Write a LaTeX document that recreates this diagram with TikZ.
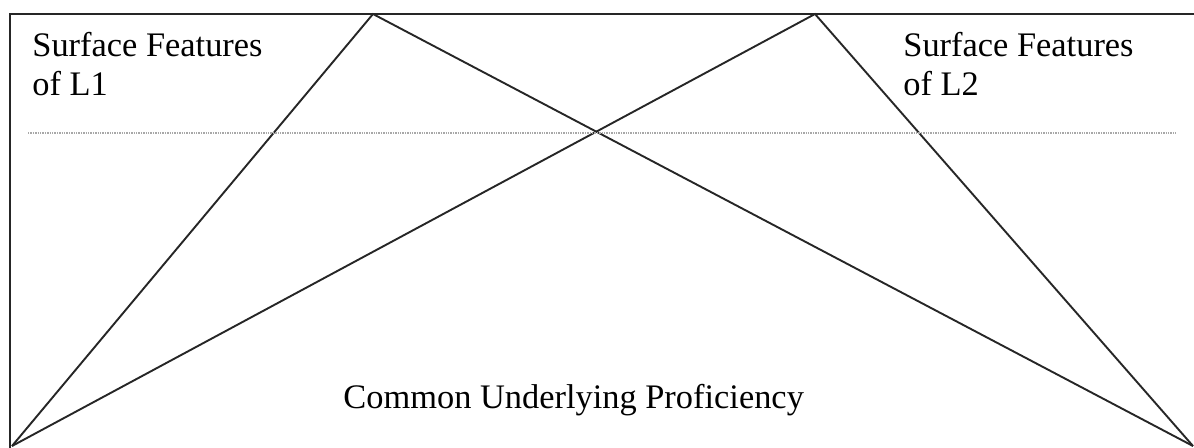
\documentclass[tikz,border=0pt]{standalone}
\usepackage{fontspec}
\setmainfont{Liberation Serif}
\usepackage{tikz}
\usetikzlibrary{positioning,calc}
\usepackage{xcolor}
\definecolor{cupline}{HTML}{262626}
\definecolor{cupdots}{HTML}{A8A8A8}

\begin{document}
\begin{tikzpicture}[
    x=0.5pt, y=-0.5pt,
    frameline/.style={draw=cupline, line width=1pt},
    cupline/.style={draw=cupline, line width=0.95pt},
    waterline/.style={draw=cupdots, line width=1.4pt, dash pattern=on 0.7pt off 0.5pt},
    label/.style={anchor=base west, inner sep=0pt, align=left, font=\fontsize{17.2}{19.5}\selectfont},
]
\useasboundingbox (0,0) rectangle (1194,447);

% === Frame (open at right and bottom) ===
\coordinate (boxtl) at (10,14);
\coordinate (boxbl) at (10,449);
\coordinate (boxtr) at (1196,14);
\draw[frameline] (boxbl) -- (boxtl) -- (boxtr);

% === Apexes and base corners ===
\coordinate (peakL1) at (373,14);
\coordinate (peakL2) at (815,14);
\coordinate (baseL) at (12,446);
\coordinate (baseR) at (1193,446);
\draw[cupline] (baseL) -- (peakL1) -- (baseR);
\draw[cupline] (baseL) -- (peakL2) -- (baseR);

% === Surface line ===
\coordinate (surfL) at (28,133);
\coordinate (surfR) at (1176,133);
\draw[waterline] (surfL) -- (surfR);

% Labels (base anchor sits on the last line)
\node[label] (featL1) at (32,95) {Surface Features\\of L1};
\node[label] (featL2) at (903,95) {Surface Features\\of L2};
\node[label] (cup) at (343,408) {Common Underlying Proficiency};

\end{tikzpicture}
\end{document}
